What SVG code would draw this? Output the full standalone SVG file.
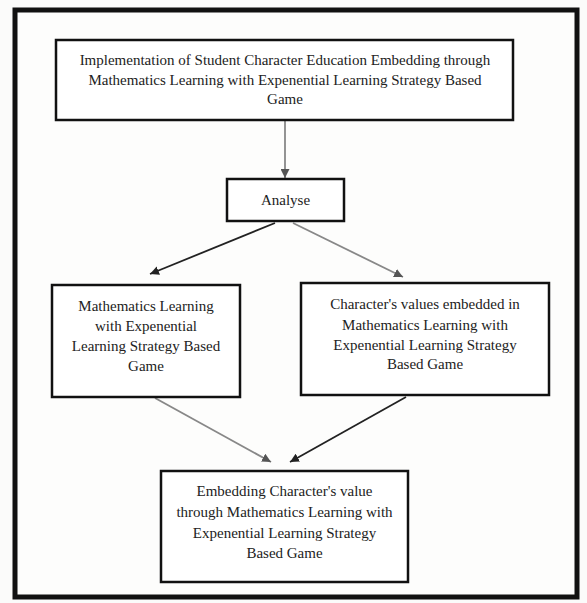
<svg xmlns="http://www.w3.org/2000/svg" width="587" height="603" viewBox="0 0 587 603">
<defs>
<style>
.box{fill:#fff;stroke:#111;stroke-width:2.5}
.t{font-family:"Liberation Serif","Times New Roman",serif;font-size:15px;fill:#222;text-anchor:middle}
.dark{stroke:#222;stroke-width:1.8;fill:none}
.light{stroke:#888;stroke-width:1.8;fill:none}
</style>
<marker id="ad" viewBox="0 0 10 10" refX="10" refY="5" markerWidth="9" markerHeight="9" markerUnits="userSpaceOnUse" orient="auto"><path d="M0,0 L10,5 L0,10 z" fill="#222"/></marker>
<marker id="al" viewBox="0 0 10 10" refX="10" refY="5" markerWidth="9" markerHeight="9" markerUnits="userSpaceOnUse" orient="auto"><path d="M0,0 L10,5 L0,10 z" fill="#555"/></marker>
</defs>
<rect x="0" y="0" width="587" height="603" fill="#fbfbfa"/>
<rect id="frame" x="15" y="10" width="562" height="587" fill="#fdfdfc" stroke="#111" stroke-width="5"/>
<g id="connectors">
<line class="light" x1="285" y1="121" x2="285" y2="178" marker-end="url(#al)"/>
<line class="dark" x1="275" y1="223" x2="150" y2="274" marker-end="url(#ad)"/>
<line class="light" x1="293" y1="223" x2="403" y2="277" marker-end="url(#al)"/>
<line class="light" x1="155" y1="398" x2="271" y2="462" marker-end="url(#al)"/>
<line class="dark" x1="406" y1="397" x2="290" y2="462" marker-end="url(#ad)"/>
</g>
<g id="node-top">
<rect class="box" x="56" y="40" width="457" height="80"/>
<text class="t" x="285" y="65">Implementation of Student Character Education Embedding through</text>
<text class="t" x="285" y="85">Mathematics Learning with Expenential Learning Strategy Based</text>
<text class="t" x="285" y="104">Game</text>
</g>
<g id="node-analyse">
<rect class="box" x="227" y="179" width="117" height="42"/>
<text class="t" x="285.5" y="205">Analyse</text>
</g>
<g id="node-left">
<rect class="box" x="52" y="285" width="188" height="112"/>
<text class="t" x="146" y="311">Mathematics Learning</text>
<text class="t" x="146" y="331">with Expenential</text>
<text class="t" x="146" y="351">Learning Strategy Based</text>
<text class="t" x="146" y="371">Game</text>
</g>
<g id="node-right">
<rect class="box" x="301" y="283" width="248" height="112"/>
<text class="t" x="425" y="309">Character's values embedded in</text>
<text class="t" x="425" y="330">Mathematics Learning with</text>
<text class="t" x="425" y="350">Expenential Learning Strategy</text>
<text class="t" x="425" y="369">Based Game</text>
</g>
<g id="node-bottom">
<rect class="box" x="161" y="471" width="247" height="111"/>
<text class="t" x="284.5" y="496">Embedding Character's value</text>
<text class="t" x="284.5" y="517">through Mathematics Learning with</text>
<text class="t" x="284.5" y="538">Expenential Learning Strategy</text>
<text class="t" x="284.5" y="558">Based Game</text>
</g>
</svg>
